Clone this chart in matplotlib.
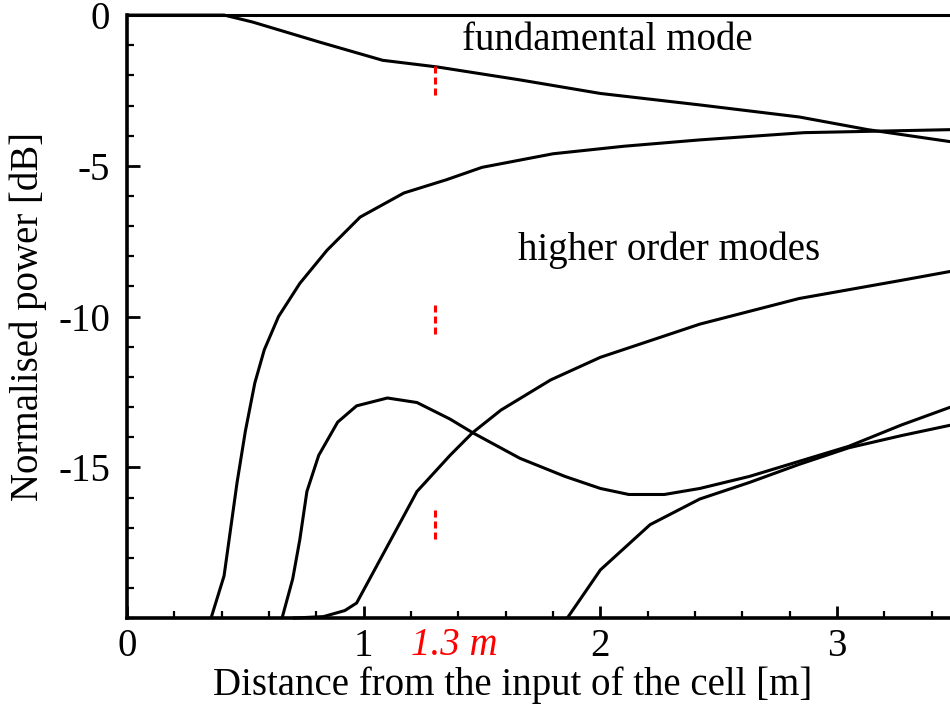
import matplotlib.pyplot as plt
from matplotlib.ticker import MultipleLocator

plt.rcParams['font.family'] = ['Liberation Serif', 'DejaVu Serif']

# power in the guided modes along the cell (x in m, y in dB)
flat_x = [0.0, 0.5, 1.0, 1.5, 2.0, 2.5, 3.0, 3.48]
flat_y = [0.0, 0.0, 0.0, 0.0, 0.0, 0.0, 0.0, 0.0]

fund_x = [0.0, 0.30, 0.41, 0.53, 0.815, 1.08, 1.31, 1.66, 2.00, 2.42, 2.84, 3.13, 3.48]
fund_y = [0.0, 0.0, 0.0, -0.23, -0.90, -1.50, -1.72, -2.15, -2.60, -2.98, -3.38, -3.80, -4.2]

hom1_x = [0.355, 0.41, 0.465, 0.50, 0.54, 0.58, 0.64, 0.73, 0.845, 0.985, 1.17, 1.35, 1.50, 1.80, 2.10, 2.42, 2.86, 3.48]
hom1_y = [-20.0, -18.6, -15.5, -13.8, -12.2, -11.1, -10.0, -8.9, -7.8, -6.7, -5.9, -5.46, -5.05, -4.6, -4.35, -4.14, -3.9, -3.8]

hom2_x = [0.655, 0.70, 0.73, 0.76, 0.81, 0.89, 0.97, 1.10, 1.225, 1.365, 1.46, 1.66, 1.85, 2.00, 2.12, 2.27, 2.42, 2.63, 2.84, 3.05, 3.27, 3.48]
hom2_y = [-20.0, -18.7, -17.4, -15.8, -14.6, -13.5, -12.96, -12.7, -12.85, -13.4, -13.85, -14.7, -15.3, -15.7, -15.9, -15.9, -15.7, -15.3, -14.8, -14.3, -13.6, -13.0]

hom3_x = [0.70, 0.83, 0.92, 0.97, 1.17, 1.225, 1.365, 1.46, 1.58, 1.79, 2.00, 2.42, 2.84, 3.27, 3.48]
hom3_y = [-20.0, -19.95, -19.75, -19.5, -16.6, -15.8, -14.6, -13.85, -13.1, -12.1, -11.35, -10.25, -9.4, -8.8, -8.5]

hom4_x = [1.86, 2.00, 2.21, 2.42, 2.63, 2.84, 3.05, 3.27, 3.48]
hom4_y = [-20.0, -18.4, -16.9, -16.05, -15.5, -14.9, -14.35, -13.95, -13.6]

# position of the marked cross-section
mark_x = 1.3
mark_spans = [(-1.7, -2.8), (-9.6, -10.7), (-16.4, -17.5)]

fs = 28

fig = plt.figure(figsize=(9.5, 7.04), dpi=100)
ax = fig.add_axes([0.1337, 0.122, 0.8663, 0.8566])

for xs, ys in [(flat_x, flat_y), (fund_x, fund_y), (hom1_x, hom1_y),
               (hom2_x, hom2_y), (hom3_x, hom3_y), (hom4_x, hom4_y)]:
    ax.plot(xs, ys, color='black', lw=2.2, clip_on=False, solid_capstyle='butt')

for y0, y1 in mark_spans:
    ax.plot([mark_x, mark_x], [y0, y1], color='red', lw=2.2, ls=(0, (2.3, 1.3)))

ax.set_xlim(0, 3.477)
ax.set_ylim(-20, 0)

for side in ['top', 'right']:
    ax.spines[side].set_visible(False)
for side in ['left', 'bottom']:
    ax.spines[side].set_linewidth(2.6)

ax.set_xticks([0, 1, 2, 3])
ax.set_yticks([0, -5, -10, -15])
ax.set_yticklabels(['0', '-5', '-10', '-15'])
ax.xaxis.set_minor_locator(MultipleLocator(0.2))
ax.yaxis.set_minor_locator(MultipleLocator(1))
ax.tick_params(which='major', direction='in', length=9, width=2, labelsize=fs)
ax.tick_params(axis='x', which='major', pad=7)
ax.tick_params(axis='y', which='major', pad=12)
ax.tick_params(which='minor', direction='in', length=5, width=1.6)

# red label sits on the tick-label row, just right of the mark
ax.annotate('1.3 m', xy=(mark_x, 0), xycoords=('data', 'axes fraction'),
            xytext=(14, -20), textcoords='offset points',
            color='red', fontsize=fs, style='italic', ha='center', va='center')

ax.set_xlabel('Distance from the input of the cell [m]', fontsize=fs,
              labelpad=1, x=0.468)
ax.set_ylabel('Normalised power [dB]', fontsize=fs, labelpad=8)

ax.text(2.03, -0.83, 'fundamental mode', fontsize=fs, ha='center', va='center')
ax.text(2.29, -7.8, 'higher order modes', fontsize=fs, ha='center', va='center')

fig.savefig('out.png', dpi=100)
